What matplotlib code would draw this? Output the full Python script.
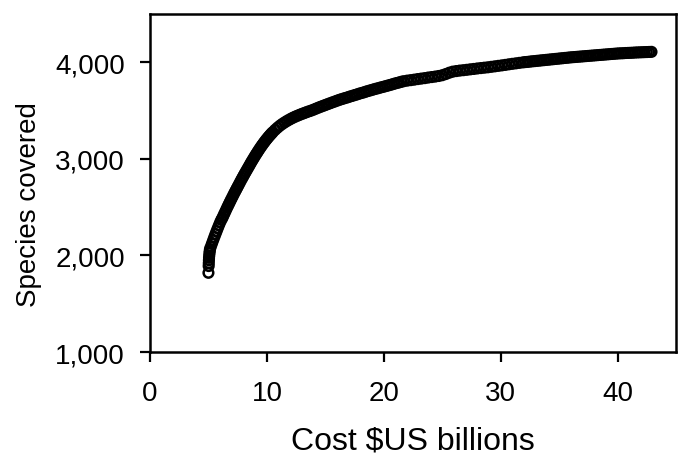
import matplotlib
matplotlib.use("Agg")
import matplotlib.pyplot as plt
from matplotlib import font_manager
from matplotlib.ticker import FuncFormatter

# --- cost (US$ billions) vs number of species covered ---
cost = [5.00, 5.02, 5.03, 5.04, 5.05, 5.07, 5.09, 5.11, 5.13,
        5.2, 5.3, 5.4, 5.5, 5.6, 5.7, 5.8, 5.9, 6.0, 6.1, 6.2, 6.3, 6.4, 6.5, 6.6, 6.7, 6.8, 6.9,
        7.0, 7.1, 7.2, 7.3, 7.4, 7.5, 7.6, 7.7, 7.8, 7.9, 8.0, 8.1, 8.2, 8.3, 8.4, 8.5, 8.6, 8.7,
        8.8, 8.9, 9.0, 9.1, 9.2, 9.3, 9.4, 9.5, 9.6, 9.7, 9.8, 9.9, 10.0, 10.1, 10.2, 10.3, 10.4, 10.5,
        10.7, 10.9, 11.1, 11.3, 11.5, 11.7, 11.9, 12.1, 12.3, 12.5, 12.7, 12.9, 13.1, 13.3, 13.5,
        13.7, 13.9, 14.1, 14.3, 14.5, 14.7, 14.9, 15.1, 15.3, 15.5, 15.7, 15.9, 16.1, 16.3,
        16.5, 16.7, 16.9, 17.1, 17.3, 17.5, 17.7, 17.9, 18.1, 18.3, 18.5, 18.7, 18.9, 19.1,
        19.3, 19.5, 19.7, 19.9, 20.1, 20.3, 20.5, 20.7, 20.9, 21.1, 21.3, 21.5, 21.7,
        22.0, 22.3, 22.6, 22.9, 23.2, 23.5, 23.8, 24.1, 24.4, 24.7, 25.0, 25.3, 25.6, 25.9,
        26.2, 26.5, 26.8, 27.1, 27.4, 27.7, 28.0, 28.3, 28.6, 28.9, 29.2, 29.5, 29.8,
        30.1, 30.4, 30.7, 31.0, 31.3, 31.6, 31.9,
        32.1, 32.3, 32.5, 32.7, 32.9, 33.1, 33.3, 33.5, 33.7, 33.9, 34.1, 34.3, 34.5, 34.7, 34.9,
        35.1, 35.3, 35.5, 35.7, 35.9, 36.1, 36.3, 36.5, 36.7, 36.9, 37.1, 37.3, 37.5, 37.7, 37.9,
        38.1, 38.3, 38.5, 38.7, 38.9, 39.1, 39.3, 39.5, 39.7, 39.9, 40.1,
        40.3, 40.5, 40.7, 40.9, 41.1, 41.3, 41.5, 41.7, 41.9, 42.1, 42.3, 42.5, 42.7, 42.9]

species = [1820, 1890, 1920, 1950, 1975, 2000, 2025, 2045, 2065,
           2089, 2123, 2156, 2189, 2221, 2252, 2283, 2313, 2342, 2368, 2390, 2417, 2443, 2469, 2495, 2520, 2545, 2570,
           2594, 2618, 2642, 2665, 2688, 2711, 2734, 2757, 2780, 2802, 2824, 2846, 2867, 2888, 2909, 2930, 2952, 2973,
           2993, 3013, 3033, 3052, 3071, 3090, 3108, 3126, 3143, 3160, 3176, 3192, 3207, 3222, 3236, 3250, 3263, 3276,
           3300, 3322, 3342, 3360, 3376, 3391, 3405, 3418, 3430, 3441, 3451, 3461, 3470, 3479, 3488,
           3496, 3505, 3515, 3525, 3535, 3544, 3553, 3562, 3571, 3580, 3589, 3598, 3607, 3615,
           3622, 3630, 3637, 3645, 3652, 3660, 3667, 3675, 3682, 3689, 3697, 3704, 3711, 3718,
           3725, 3731, 3738, 3744, 3751, 3757, 3764, 3771, 3778, 3785, 3791, 3798, 3804,
           3810, 3815, 3820, 3826, 3831, 3836, 3842, 3847, 3852, 3858, 3866, 3878, 3892, 3903,
           3909, 3914, 3918, 3922, 3927, 3931, 3936, 3940, 3944, 3948, 3953, 3958, 3963,
           3968, 3973, 3979, 3984, 3989, 3994, 3999,
           4002, 4004, 4007, 4010, 4012, 4015, 4017, 4020, 4022, 4025, 4027, 4030, 4032, 4035, 4037,
           4040, 4042, 4045, 4047, 4050, 4052, 4054, 4056, 4058, 4060, 4062, 4064, 4066, 4068, 4070,
           4072, 4074, 4076, 4078, 4080, 4082, 4084, 4086, 4088, 4090, 4092,
           4093, 4094, 4096, 4097, 4098, 4099, 4101, 4102, 4103, 4104, 4105, 4106, 4107, 4108]

xticks = [0, 10, 20, 30, 40]
yticks = [1000, 2000, 3000, 4000]

# narrow Arial-like face if present
installed = {f.name for f in font_manager.fontManager.ttflist}
narrow = 'Liberation Sans Narrow' if 'Liberation Sans Narrow' in installed else 'Liberation Sans'
plt.rcParams['font.family'] = [narrow, 'DejaVu Sans']

fig = plt.figure(figsize=(6.83, 4.60), dpi=100)
ax = fig.add_axes([0.2196, 0.2326, 0.7702, 0.7348])

ax.scatter(cost, species, s=48, facecolors='none', edgecolors='black', linewidths=1.8, zorder=3)

ax.set_xlim(0, 45)
ax.set_ylim(1000, 4500)
ax.set_xticks(xticks)
ax.set_yticks(yticks)
ax.yaxis.set_major_formatter(FuncFormatter(lambda v, p: f'{int(v):,}'))

for sp in ax.spines.values():
    sp.set_linewidth(1.8)
ax.tick_params(direction='out', length=7, width=1.6, labelsize=20)
ax.tick_params(axis='x', pad=13)
ax.tick_params(axis='y', pad=11)

ax.set_xlabel('Cost $US billions', fontsize=23, labelpad=14)
ax.set_ylabel('Species covered', fontsize=20, family=['Liberation Sans', 'DejaVu Sans'])
ax.yaxis.set_label_coords(-0.205, 0.44)

fig.savefig('out.png', dpi=100)
